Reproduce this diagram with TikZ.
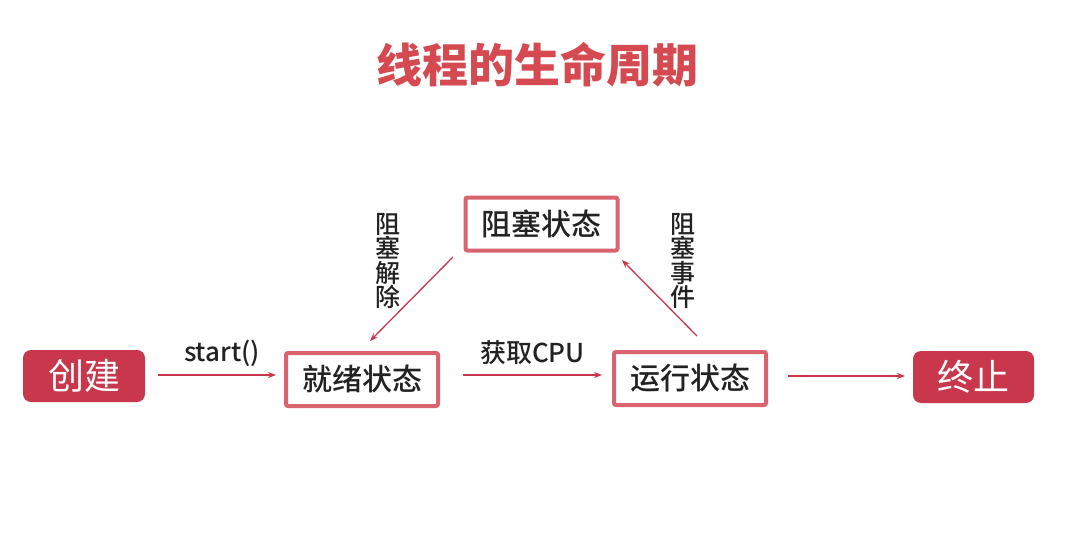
\documentclass[tikz,border=0pt]{standalone}
\usepackage{fontspec}
\setmainfont{Noto Sans CJK SC}
\newfontfamily\cjkbold{Noto Sans CJK SC Black}
\newfontfamily\cjkmed{Noto Sans CJK SC Medium}
\usetikzlibrary{arrows.meta,calc}
\definecolor{boxred}{HTML}{C8374B}
\definecolor{edgered}{HTML}{D9636F}
\definecolor{titlered}{HTML}{D44A50}
\definecolor{arrred}{HTML}{C8374B}
\definecolor{txt}{HTML}{222222}
\tikzset{
  filledbox/.style={fill=boxred,draw=none,rounded corners=8pt,text=white,
    font=\fontsize{36}{40}\selectfont,minimum width=122pt,minimum height=52pt,
    inner sep=0pt,outer sep=0pt},
  statebox/.style={draw=edgered,line width=4pt,rounded corners=2pt,fill=white,
    text=txt,font=\cjkmed\fontsize{30}{34}\selectfont,minimum width=152pt,
    minimum height=53pt,inner sep=0pt,outer sep=0pt},
  lbl/.style={text=txt,font=\cjkmed\fontsize{25}{24.5}\selectfont,inner sep=0pt},
  vlbl/.style={lbl,align=center},
  arr/.style={draw=arrred,line width=1.3pt,-{Stealth[length=8pt,width=6pt]}}
}
\begin{document}
\begin{tikzpicture}[x=1pt,y=-1pt]
\useasboundingbox (0,0) rectangle (1069,546);
\node[text=titlered,font=\cjkbold\fontsize{46}{50}\selectfont,inner sep=0pt] (title) at (537,65) {线程的生命周期};
\node[filledbox] (create) at (84,376) {创建};
\node[statebox] (ready) at (362,379.5) {就绪状态};
\node[statebox] (block) at (541.5,224) {阻塞状态};
\node[statebox] (run) at (690,378.5) {运行状态};
\node[filledbox,minimum width=121pt] (stop) at (973.5,377) {终止};
\draw[arr] ([shift={(13,-1)}]create.east) -- ([shift={(-10,-1)}]create.east -| ready.west)
  node[lbl,font=\cjkmed\fontsize{26}{28}\selectfont,midway,above=8pt,xshift=5pt] (l1) {start()};
\draw[arr] ([shift={(25,-4.5)}]ready.east) -- ([shift={(-12,-4.5)}]ready.east -| run.west)
  node[lbl,font=\cjkmed\fontsize{26}{28}\selectfont,midway,above=10pt] (l2) {获取CPU};
\draw[arr] ([shift={(22,-2.5)}]run.east) -- ([shift={(-8,-2.5)}]run.east -| stop.west);
\draw[arr] ([shift={(-88.5,33)}]block.center) -- ([shift={(8,-38.5)}]ready.center);
\draw[arr] ([shift={(7,-42.5)}]run.center) -- ([shift={(80.5,36)}]block.center);
\node[vlbl] (l3) at (388,261) {阻\\塞\\解\\除};
\node[vlbl] (l4) at (683,261) {阻\\塞\\事\\件};
\end{tikzpicture}
\end{document}
